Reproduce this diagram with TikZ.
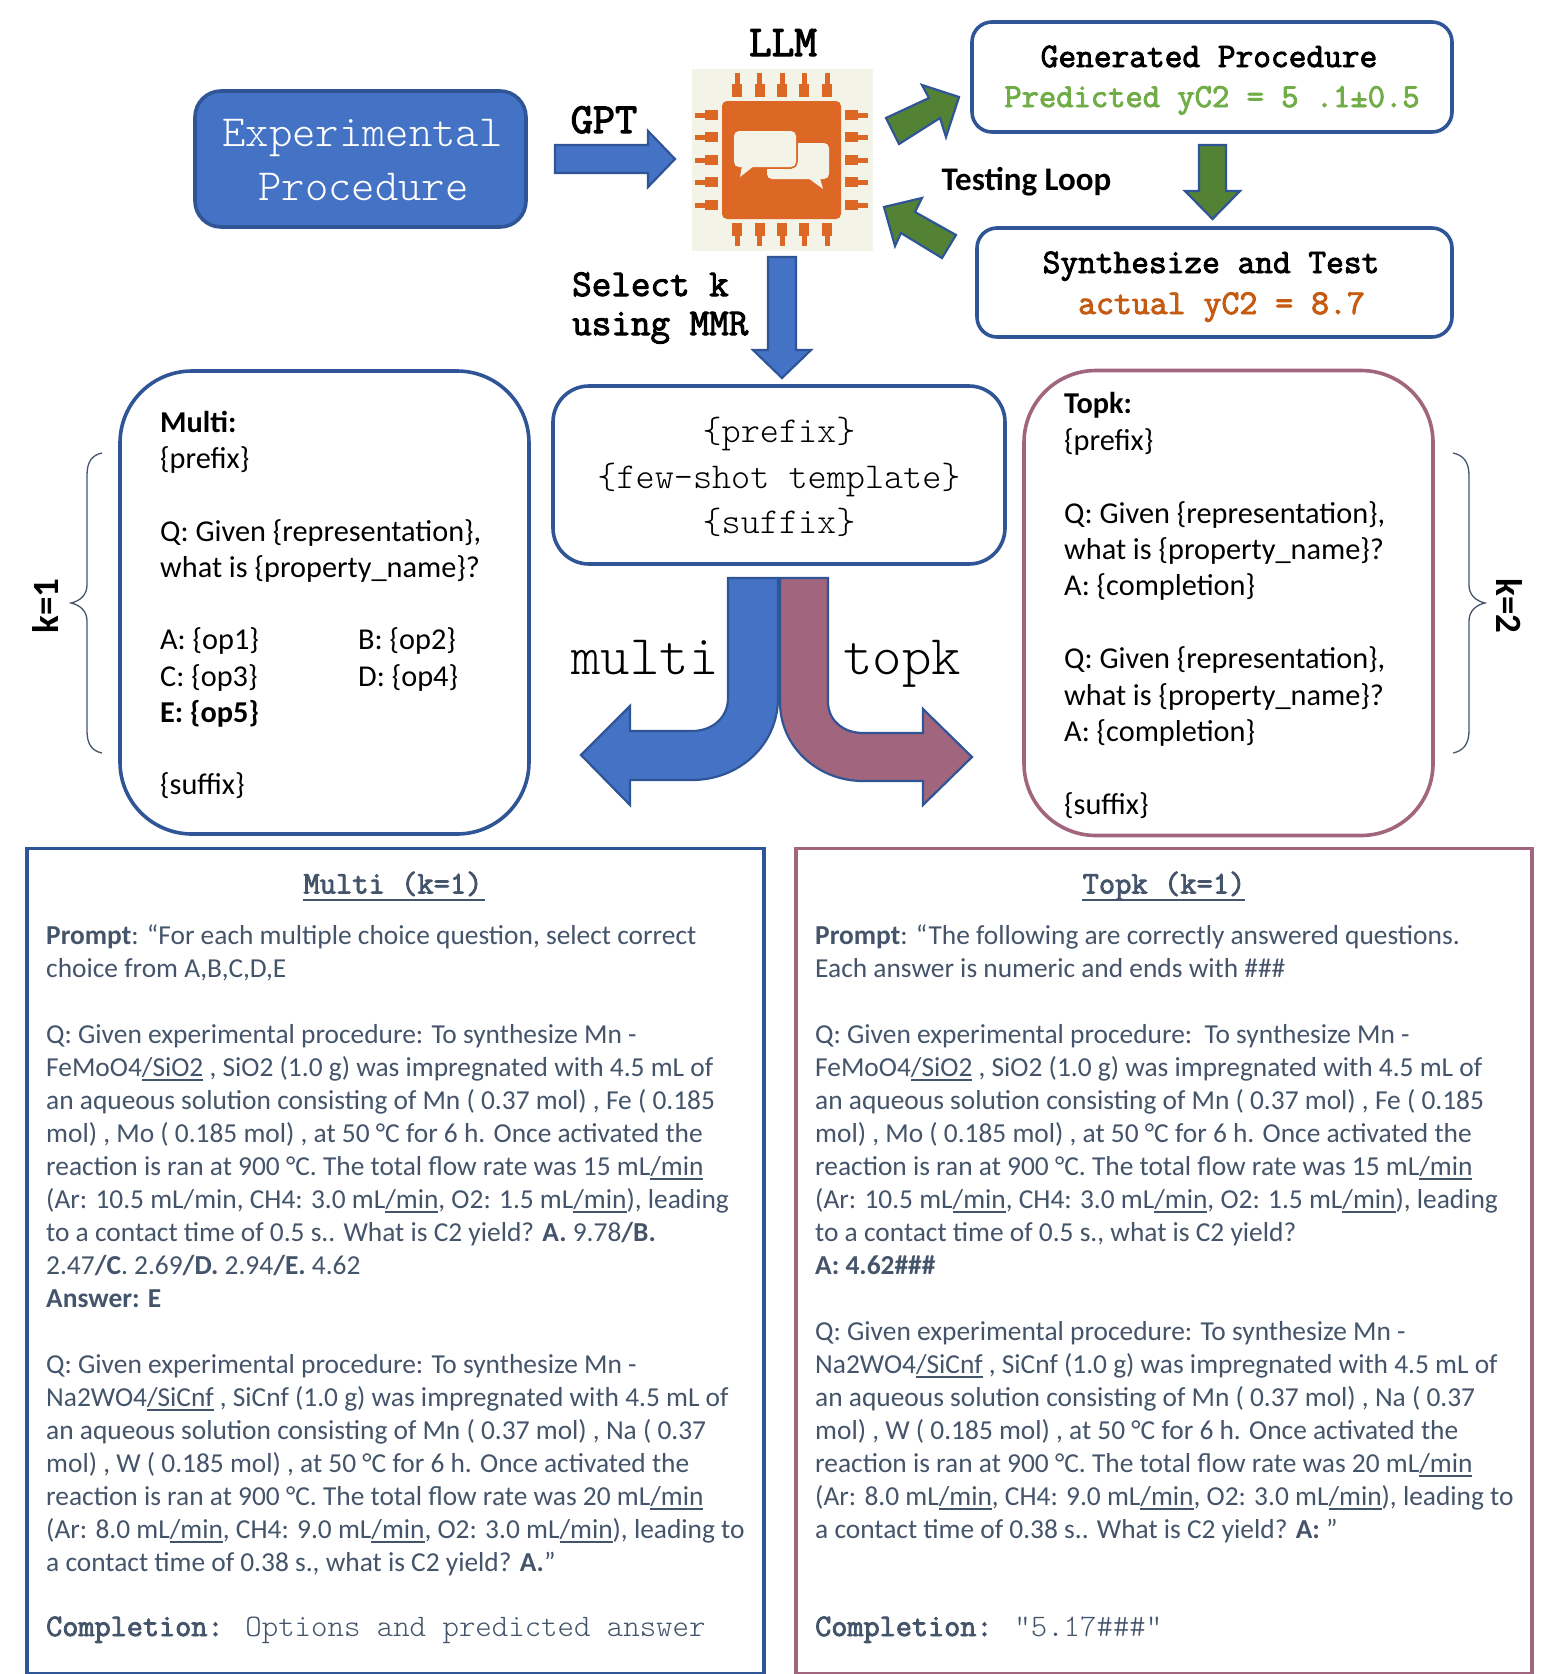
\documentclass[tikz,border=0pt]{standalone}
\usepackage{fontspec}
\newfontfamily\calib{Carlito}
\newfontfamily\monobold[FakeBold=2.6]{Latin Modern Mono}
\definecolor{bfill}{HTML}{4472C4}
\definecolor{bline}{HTML}{2F5597}
\definecolor{pfill}{HTML}{A1667E}
\definecolor{gfill}{HTML}{548235}
\definecolor{ofill}{HTML}{DD6825}
\definecolor{cream}{HTML}{F3F3E7}
\definecolor{slate}{HTML}{44546A}
\definecolor{pgreen}{HTML}{70AD47}
\definecolor{porange}{HTML}{C55A11}
\newcommand{\tfs}[1]{\ttfamily\fontseries{l}\fontsize{#1}{#1}\selectfont}
\newcommand{\tbs}[1]{\monobold\fontsize{#1}{#1}\selectfont}
\newcommand{\cfs}[2]{\calib\fontsize{#1}{#2}\selectfont}
\newcommand{\ulx}[1]{\setbox0\hbox{#1}\rlap{\rule[-4.5pt]{\wd0}{1.3pt}}\box0\relax}
\newcommand{\fs}{\rule{0pt}{25pt}}
\tikzset{
  rbox/.style={draw=bline,line width=3.6pt,fill=white,inner sep=0pt,rounded corners=#1},
  pbox/.style={draw=pfill,line width=3.6pt,fill=white,inner sep=0pt,rounded corners=#1},
  blockb/.style={draw=bline,line width=2.2pt,fill=bfill,line join=miter},
  blockg/.style={draw=bline,line width=2.2pt,fill=gfill,line join=miter},
  blockp/.style={draw=bline,line width=2.2pt,fill=pfill,line join=miter},
  brace/.style={draw=slate,line width=1.3pt},
  pin/.style={fill=ofill,draw=none},
  plain/.style={inner sep=0pt,anchor=base},
  lefttext/.style={inner sep=0pt,anchor=north west,align=left},
}
\begin{document}
\begin{tikzpicture}[x=1pt,y=-1pt]
\useasboundingbox (0,0) rectangle (1552,1674);
% top row
\node[rbox=26pt,fill=bfill,minimum width=331pt,minimum height=136pt] (exp) at (360.5,159) {};
\node[plain,text=white,font=\tfs{44.5}] (exp1) at (362.5,146) {Experimental};
\node[plain,text=white,font=\tfs{44.5}] (exp2) at (363.5,200) {Procedure};
\node[rbox=20pt,minimum width=480pt,minimum height=110pt] (gen) at (1212,77) {};
\node[plain,font=\tbs{34.4}] (gen1) at (1209,67) {Generated Procedure};
\node[plain,font=\tbs{33.6}\color{pgreen}] (gen2) at (1212,107) {Predicted yC2 = 5 .1±0.5};
\node[rbox=20pt,minimum width=475pt,minimum height=109pt] (syn) at (1214.5,282.5) {};
\node[plain,font=\tbs{34.4}] (syn1) at (1211,273) {Synthesize and Test};
\node[plain,font=\tbs{34.8}\color{porange}] (syn2) at (1221.5,314) {actual yC2 = 8.7};
\node[plain,font=\tbs{44}] (llm) at (783,56) {LLM};
\node[plain,font=\tbs{43}] (gpt) at (604,133) {GPT};
\node[plain,font=\tbs{38},anchor=base west] (sel1) at (572,296) {Select k};
\node[plain,font=\tbs{38},anchor=base west] (sel2) at (572,335) {using MMR};
\node[plain,font=\cfs{33}{33}\bfseries] (loop) at (1026.5,190) {Testing Loop};
% chip
\fill[cream] (692,69) rectangle (873,251);
\fill[ofill,rounded corners=5pt] (722,101) rectangle (841,219);
\foreach \cx in {737,759.5,782,804,827}{
  \fill[pin] (\cx-5,84) rectangle (\cx+5,97);
  \fill[pin] (\cx-2.5,73) rectangle (\cx+2.5,84);
  \fill[pin] (\cx-5,223) rectangle (\cx+5,236);
  \fill[pin] (\cx-2.5,236) rectangle (\cx+2.5,246);
}
\foreach \cy in {115,137,160,182,205}{
  \fill[pin] (705,\cy-5) rectangle (718,\cy+5);
  \fill[pin] (695,\cy-2.5) rectangle (705,\cy+2.5);
  \fill[pin] (845,\cy-5) rectangle (858,\cy+5);
  \fill[pin] (858,\cy-2.5) rectangle (868,\cy+2.5);
}
\fill[cream,rounded corners=5pt] (767,143) rectangle (829,179);
\fill[cream] (808,178) -- (823,189) -- (820,178) -- cycle;
\draw[fill=cream,draw=ofill,line width=3.5pt,rounded corners=5pt] (734,131) rectangle (796,167);
\fill[cream,rounded corners=5pt] (734,131) rectangle (796,167);
\fill[cream] (742,166) -- (740,177) -- (754,166) -- cycle;
% block arrows, top
\draw[blockb] (555,145) -- (648,145) -- (648,131) -- (675,159) -- (648,187) -- (648,173) -- (555,173) -- cycle;
\draw[blockg] (1199,145) -- (1226,145) -- (1226,191) -- (1240,191) -- (1212.5,219) -- (1185,191) -- (1199,191) -- cycle;
\draw[blockb] (768,257) -- (796,257) -- (796,350) -- (811,350) -- (782,378) -- (753,350) -- (768,350) -- cycle;
\draw[blockg] (886,118) -- (929,98) -- (922,85) -- (959,97) -- (946,137) -- (940,118) -- (899,144) -- cycle;
\draw[blockg] (884,207) -- (922,198) -- (915,212) -- (956,235) -- (942,258) -- (901,233) -- (895,246) -- cycle;
% middle boxes
\node[rbox=72pt,minimum width=409pt,minimum height=463pt] (multi) at (324.5,602.5) {};
\node[lefttext,font=\cfs{30.3}{36.2}] (multitxt) at (160,407.5) {\fs\textbf{Multi:}\\
\{prefix\}\\ ~\\
Q: Given \{representation\},\\
what is \{property\_name\}?\\ ~\\
\makebox[198pt][l]{A: \{op1\}}B: \{op2\}\\
\makebox[198pt][l]{C: \{op3\}}D: \{op4\}\\
\textbf{E: \{op5\}}\\ ~\\
\{suffix\}};
\node[rbox=36pt,minimum width=452pt,minimum height=178pt] (center) at (779,475) {};
\node[plain,font=\tfs{36.4}] (c1) at (779,442) {\{prefix\}};
\node[plain,font=\tfs{36.4}] (c2) at (779,488) {\{few-shot template\}};
\node[plain,font=\tfs{36.4}] (c3) at (779,533) {\{suffix\}};
\node[pbox=72pt,minimum width=409pt,minimum height=465pt] (topk) at (1228.5,603) {};
\node[lefttext,font=\cfs{30.3}{36.45}] (topktxt) at (1064,388.5) {\fs\textbf{Topk:}\\
\{prefix\}\\ ~\\
Q: Given \{representation\},\\
what is \{property\_name\}?\\
A: \{completion\}\\ ~\\
Q: Given \{representation\},\\
what is \{property\_name\}?\\
A: \{completion\}\\ ~\\
\{suffix\}};
% braces
\draw[brace] (102,453) .. controls (92,455) and (87,462) .. (87,475) -- (87,585) .. controls (87,595) and (80,601) .. (71,603) .. controls (80,605) and (87,611) .. (87,621) -- (87,731) .. controls (87,744) and (92,751) .. (102,753);
\draw[brace] (1453,453) .. controls (1463,455) and (1469,462) .. (1469,475) -- (1469,585) .. controls (1469,595) and (1476,601) .. (1485,603) .. controls (1476,605) and (1469,611) .. (1469,621) -- (1469,731) .. controls (1469,744) and (1463,751) .. (1453,753);
\node[inner sep=0pt,rotate=90,anchor=base,font=\cfs{37}{37}\bfseries] (k1) at (58,606) {k=1};
\node[inner sep=0pt,rotate=-90,anchor=base,font=\cfs{37}{37}\bfseries] (k2) at (1496,606) {k=2};
% curved arrows
\draw[blockb] (728,578) -- (778,578) -- (778,698) .. controls (778,745) and (739,780) .. (692,780) -- (630,780) -- (630,805) -- (581,755) -- (630,706) -- (630,731) -- (692,731) .. controls (712,731) and (728,718) .. (728,698) -- cycle;
\draw[blockp] (780,578) -- (828,578) -- (828,702) .. controls (828,720) and (843,733) .. (863,733) -- (923,733) -- (923,709) -- (972,757) -- (923,805) -- (923,781) -- (863,781) .. controls (818,781) and (780,747) .. (780,702) -- cycle;
\node[plain,font=\tfs{56}] (lmulti) at (645,674) {multi};
\node[plain,font=\tfs{56}] (ltopk) at (902,674) {topk};
% bottom boxes
\node[draw=bline,line width=3.8pt,fill=white,inner sep=0pt,minimum width=737pt,minimum height=825pt] (mbox) at (395.5,1261) {};
\node[draw=pfill,line width=3.8pt,fill=white,inner sep=0pt,minimum width=736pt,minimum height=825pt] (tbox) at (1164,1261) {};
\node[plain,font=\tbs{31.6}\color{slate}] (mt) at (393,893.5) {Multi (k=1)};
\draw[slate,line width=1.6pt] (303,900) -- (485,900);
\node[plain,font=\tbs{31.6}\color{slate}] (tt) at (1164,893.5) {Topk (k=1)};
\draw[slate,line width=1.6pt] (1082,900) -- (1245,900);
\node[lefttext,text=slate,font=\cfs{27.4}{33}] (mbody) at (46,919) {\fs\textbf{Prompt}: “For each multiple choice question, select correct\\
choice from A,B,C,D,E\\ ~\\
Q: Given experimental procedure: To synthesize Mn -\\
FeMoO4\ulx{/SiO2} , SiO2 (1.0 g) was impregnated with 4.5 mL of\\
an aqueous solution consisting of Mn ( 0.37 mol) , Fe ( 0.185\\
mol) , Mo ( 0.185 mol) , at 50 °C for 6 h. Once activated the\\
reaction is ran at 900 °C. The total flow rate was 15 mL\ulx{/min}\\
(Ar: 10.5 mL/min, CH4: 3.0 mL\ulx{/min}, O2: 1.5 mL\ulx{/min}), leading\\
to a contact time of 0.5 s.. What is C2 yield? \textbf{A.} 9.78\textbf{/B.}\\
2.47\textbf{/C}. 2.69\textbf{/D.} 2.94\textbf{/E.} 4.62\\
\textbf{Answer: E}\\ ~\\
Q: Given experimental procedure: To synthesize Mn -\\
Na2WO4\ulx{/SiCnf} , SiCnf (1.0 g) was impregnated with 4.5 mL of\\
an aqueous solution consisting of Mn ( 0.37 mol) , Na ( 0.37\\
mol) , W ( 0.185 mol) , at 50 °C for 6 h. Once activated the\\
reaction is ran at 900 °C. The total flow rate was 20 mL\ulx{/min}\\
(Ar: 8.0 mL\ulx{/min}, CH4: 9.0 mL\ulx{/min}, O2: 3.0 mL\ulx{/min}), leading to\\
a contact time of 0.38 s., what is C2 yield? \textbf{A.}”};
\node[plain,anchor=base west,text=slate,font=\tfs{31.3}] (mcomp) at (46,1636) {{\tbs{31.3}Completion:} Options and predicted answer};
\node[lefttext,text=slate,font=\cfs{27.4}{33}] (tbody) at (815,919) {\fs\textbf{Prompt}: “The following are correctly answered questions.\\
Each answer is numeric and ends with \#\#\#\\ ~\\
Q: Given experimental procedure:\ \ To synthesize Mn -\\
FeMoO4\ulx{/SiO2} , SiO2 (1.0 g) was impregnated with 4.5 mL of\\
an aqueous solution consisting of Mn ( 0.37 mol) , Fe ( 0.185\\
mol) , Mo ( 0.185 mol) , at 50 °C for 6 h. Once activated the\\
reaction is ran at 900 °C. The total flow rate was 15 mL\ulx{/min}\\
(Ar: 10.5 mL\ulx{/min}, CH4: 3.0 mL\ulx{/min}, O2: 1.5 mL\ulx{/min}), leading\\
to a contact time of 0.5 s., what is C2 yield?\\
\textbf{A: 4.62\#\#\#}\\ ~\\
Q: Given experimental procedure: To synthesize Mn -\\
Na2WO4\ulx{/SiCnf} , SiCnf (1.0 g) was impregnated with 4.5 mL of\\
an aqueous solution consisting of Mn ( 0.37 mol) , Na ( 0.37\\
mol) , W ( 0.185 mol) , at 50 °C for 6 h. Once activated the\\
reaction is ran at 900 °C. The total flow rate was 20 mL\ulx{/min}\\
(Ar: 8.0 mL\ulx{/min}, CH4: 9.0 mL\ulx{/min}, O2: 3.0 mL\ulx{/min}), leading to\\
a contact time of 0.38 s.. What is C2 yield? \textbf{A:} ”};
\node[plain,anchor=base west,text=slate,font=\tfs{31.3}] (tcomp) at (815,1636) {{\tbs{31.3}Completion:} ”5.17\#\#\#”};
\end{tikzpicture}
\end{document}
